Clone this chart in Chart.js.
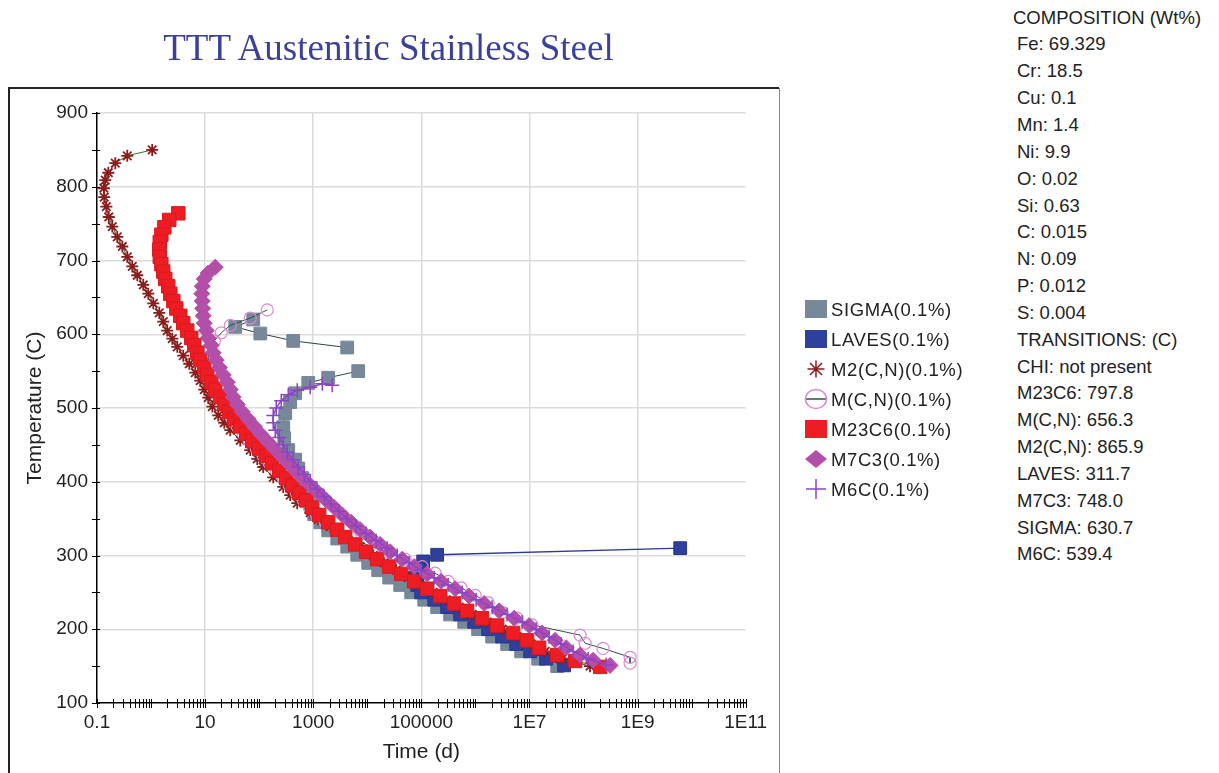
<!DOCTYPE html>
<html>
<head>
<meta charset="utf-8">
<title>TTT Austenitic Stainless Steel</title>
<script src="https://cdn.jsdelivr.net/npm/chart.js@4.4.1/dist/chart.umd.min.js"></script>
<style>
  html, body { margin: 0; padding: 0; background: #fff; }
  body { width: 1219px; height: 773px; position: relative; overflow: hidden;
         font-family: "Liberation Sans", Arial, sans-serif; }
  #title { position: absolute; left: 0; top: 26px; width: 777px; text-align: center;
           font-family: "Liberation Serif", "Times New Roman", serif; font-size: 37px;
           line-height: 44px; color: #3b4199; }
  #chartBox { position: absolute; left: 0; top: 0; width: 1000px; height: 773px; }
  #composition { position: absolute; left: 1013px; top: 4.6px; font-size: 18.5px;
                 line-height: 26.85px; color: #222; white-space: nowrap; }
  #composition div.item { padding-left: 4px; }
</style>
</head>
<body>
<div id="chartBox"><canvas id="chart" width="1000" height="773"></canvas></div>
<div id="title">TTT Austenitic Stainless Steel</div>
<div id="composition"></div>

<script>
// axis ticks
const timeTicks = [0.1, 10, 1000, 1e5, 1e7, 1e9, 1e11];
const timeTickLabels = ["0.1", "10", "1000", "100000", "1E7", "1E9", "1E11"];
const tempTicks = [100, 200, 300, 400, 500, 600, 700, 800, 900];

const seriesNames = ["SIGMA(0.1%)", "LAVES(0.1%)", "M2(C,N)(0.1%)", "M(C,N)(0.1%)",
  "M23C6(0.1%)", "M7C3(0.1%)", "M6C(0.1%)"];

// SIGMA has two separate pieces
const sigmaUpperTemp = [620, 610, 601, 591, 582];
const sigmaUpperTime = [77.7, 36.1, 105, 426, 4250];
const sigmaLowerTemp = [550, 541, 534, 520, 508, 493, 474, 459, 443, 430, 418, 405, 392, 380, 368,
  356, 345, 334, 323, 312, 301, 290, 280, 270, 260, 250, 240, 230, 220, 210, 200, 190, 180, 170, 160, 150];
const sigmaLowerTime = [6790, 1890, 808, 464, 375, 303, 279, 291, 345, 464, 528, 626, 711, 808, 918,
  1040, 1350, 1890, 2780, 4250, 6510, 1.04e4, 1.59e4, 2.54e4, 4.06e4, 6.48e4, 1.13e5, 1.96e5, 3.41e5,
  6.19e5, 1.12e6, 2.04e6, 3.86e6, 7.01e6, 1.45e7, 3.25e7];

const lavesTemp = [310, 301, 292, 281, 270, 260, 250, 240, 230, 220, 210, 200, 190, 180, 170, 160, 151];
const lavesTime = [6.14e9, 1.96e5, 1.08e5, 8.73e4, 7.69e4, 8.37e4, 9.92e4, 1.73e5, 3.0e5, 5.22e5,
  9.48e5, 1.72e6, 3.12e6, 5.67e6, 1.03e7, 2.03e7, 4.37e7];

const m2cnTemp = [850, 842, 832, 819, 809, 798, 786, 773, 759, 746, 732, 719, 705, 692, 680, 667, 655,
  642, 629, 617, 605, 594, 583, 571, 560, 548, 537, 525, 514, 502, 490, 480, 470, 456, 443, 431, 420,
  406, 393, 382, 371, 358, 349, 339, 325, 312, 300, 290, 280, 270, 260, 250, 240, 230, 220, 210, 200,
  190, 180, 170, 160, 150];
const m2cnTime = [1.05, 0.363, 0.218, 0.162, 0.142, 0.134, 0.136, 0.149, 0.165, 0.192, 0.237, 0.294,
  0.363, 0.449, 0.556, 0.718, 0.888, 1.1, 1.42, 1.68, 1.99, 2.47, 3.05, 3.94, 5.09, 6.57, 8.13, 9.64,
  11.4, 13.6, 17.5, 22.6, 29.2, 44.7, 68.4, 92.1, 119, 182, 279, 375, 506, 880, 1240, 2060, 4250, 7390,
  1.29e4, 2.05e4, 3.42e4, 5.71e4, 9.51e4, 1.65e5, 2.88e5, 5e5, 8.71e5, 1.65e6, 3.12e6, 5.91e6, 1.07e7,
  1.95e7, 4.02e7, 1.32e8];

const mcnTemp = [633, 622, 612, 602, 591, 580, 568, 556, 545, 535, 525, 515, 505, 495, 485, 475, 465,
  455, 445, 435, 425, 415, 405, 395, 385, 375, 365, 355, 345, 335, 325, 315, 305, 295, 285, 276, 265,
  256, 246, 236, 223, 215, 206, 192, 181, 174, 162, 154];
const mcnTime = [141, 68.4, 29.2, 19.9, 14.8, 12.4, 11.4, 11.4, 11.9, 13.6, 15.4, 18.3, 21.6, 26.8,
  31.8, 39.3, 50.7, 65.5, 88.3, 119, 154, 207, 279, 360, 485, 653, 843, 1140, 1670, 2660, 4830, 9540,
  2.14e4, 5.02e4, 1.04e5, 1.8e5, 3.13e5, 5.45e5, 9.89e5, 1.72e6, 3.12e6, 5.91e6, 1.12e7, 8.65e7,
  1.07e8, 2.3e8, 7.27e8, 7.27e8];

const m23c6Temp = [764, 755, 745, 735, 725, 715, 705, 695, 685, 675, 665, 655, 645, 635, 625, 615, 605,
  595, 585, 575, 565, 555, 545, 535, 525, 515, 505, 495, 485, 475, 465, 455, 445, 435, 425, 415, 405,
  395, 385, 375, 365, 355, 345, 335, 325, 315, 305, 295, 285, 275, 265, 255, 245, 235, 225, 215, 205,
  195, 185, 175, 165, 157, 149];
const m23c6Time = [3.19, 2.17, 1.76, 1.55, 1.45, 1.42, 1.45, 1.55, 1.68, 1.83, 2.08, 2.27, 2.58, 2.93,
  3.47, 3.94, 4.67, 5.54, 6.3, 7.15, 8.13, 9.64, 10.9, 13, 15.4, 19.1, 22.6, 27.9, 34.6, 44.7, 57.6,
  74.4, 100, 135, 174, 235, 316, 409, 551, 742, 957, 1290, 1890, 2780, 3900, 5970, 9540, 1.52e4,
  2.54e4, 4.24e4, 7.37e4, 1.28e5, 2.23e5, 4.04e5, 7.03e5, 1.33e6, 2.52e6, 4.99e6, 9.05e6, 1.51e7,
  3.25e7, 6.99e7, 2.03e8];

const m7c3Temp = [691, 683, 675, 665, 655, 645, 635, 625, 615, 605, 595, 585, 575, 565, 555, 545, 535,
  525, 515, 505, 495, 485, 475, 465, 455, 445, 435, 425, 415, 405, 395, 385, 375, 365, 355, 345, 335,
  325, 315, 305, 295, 285, 275, 265, 255, 245, 235, 225, 215, 205, 195, 185, 175, 165, 158, 151];
const m7c3Time = [15.4, 11.4, 9.64, 8.85, 8.67, 8.85, 9.04, 9.24, 9.64, 10.5, 11.4, 13.0, 14.1, 16.1,
  18.3, 21.6, 25.7, 29.2, 33.1, 39.3, 48.6, 62.8, 81, 105, 141, 190, 256, 345, 464, 626, 880, 1240,
  1740, 2440, 3440, 5040, 7390, 1.13e4, 1.73e4, 2.65e4, 4.42e4, 7.37e4, 1.28e5, 2.32e5, 4.22e5,
  7.66e5, 1.45e6, 2.75e6, 5.2e6, 9.86e6, 1.71e7, 2.98e7, 4.76e7, 8.65e7, 1.5e8, 3.1e8];

const m6cTemp = [531, 533, 528, 524, 518, 510, 500, 490, 480, 470, 460, 450, 440, 430, 420, 410, 400,
  390, 380, 370, 360, 350, 340, 330, 320, 310, 300, 290, 280, 270, 260, 250, 240, 230, 220, 210, 200,
  190, 180, 170, 160, 152];
const m6cTime = [2240, 1470, 880, 506, 345, 256, 207, 182, 182, 198, 235, 279, 330, 426, 528, 681, 880,
  1180, 1600, 2150, 3020, 4250, 6230, 9540, 1.46e4, 2.33e4, 3.57e4, 5.95e4, 9.92e4, 1.73e5, 3.13e5,
  5.69e5, 1.03e6, 2.04e6, 3.86e6, 7.32e6, 1.33e7, 2.31e7, 3.85e7, 6.42e7, 1.22e8, 2.62e8];

const compositionLines = ["Fe: 69.329", "Cr: 18.5", "Cu: 0.1", "Mn: 1.4", "Ni: 9.9", "O: 0.02",
  "Si: 0.63", "C: 0.015", "N: 0.09", "P: 0.012", "S: 0.004", "TRANSITIONS: (C)", "CHI: not present",
  "M23C6: 797.8", "M(C,N): 656.3", "M2(C,N): 865.9", "LAVES: 311.7", "M7C3: 748.0", "SIGMA: 630.7",
  "M6C: 539.4"];

// side text block
const comp = document.getElementById("composition");
comp.innerHTML = "<div>COMPOSITION (Wt%)</div>" +
  compositionLines.map((s) => `<div class="item">${s}</div>`).join("");

function toPoints(times, temps) {
  return times.map((t, i) => ({ x: t, y: temps[i] }));
}

// gap between the two SIGMA pieces
const sigmaPoints = toPoints(sigmaUpperTime, sigmaUpperTemp)
  .concat([{ x: sigmaUpperTime[sigmaUpperTime.length - 1], y: null }])
  .concat(toPoints(sigmaLowerTime, sigmaLowerTemp));

function isLabeledTime(v) {
  const k = Math.round(Math.log10(v));
  if (Math.abs(Math.log10(v) - k) > 1e-6) return -1;
  return timeTicks.findIndex((t) => Math.round(Math.log10(t)) === k);
}

// every 1..9 x 10^k tick between 0.1 and 1E11
const minorTimeTicks = [];
for (let k = -1; k <= 10; k++) {
  for (let m = 1; m <= 9; m++) minorTimeTicks.push(m * Math.pow(10, k));
}
minorTimeTicks.push(1e11);

const framePlugin = {
  id: "frame",
  beforeDraw(chart) {
    const ctx = chart.ctx;
    ctx.save();
    ctx.strokeStyle = "#222";
    ctx.lineWidth = 2;
    ctx.beginPath();
    ctx.moveTo(9, 800);
    ctx.lineTo(9, 88);
    ctx.lineTo(779, 88);
    ctx.stroke();
    ctx.strokeStyle = "#888";
    ctx.lineWidth = 1;
    ctx.beginPath();
    ctx.moveTo(779.5, 88);
    ctx.lineTo(779.5, 800);
    ctx.stroke();
    ctx.restore();
  }
};

const tickMarks = {
  id: "tickMarks",
  afterDraw(chart) {
    const { ctx, chartArea, scales } = chart;
    ctx.save();
    ctx.strokeStyle = "#000";
    ctx.lineWidth = 1;
    ctx.beginPath();
    scales.x.ticks.forEach((t) => {
      const px = Math.round(scales.x.getPixelForValue(t.value)) + 0.5;
      ctx.moveTo(px, chartArea.bottom - 4);
      ctx.lineTo(px, chartArea.bottom + 5);
    });
    scales.y.ticks.forEach((t) => {
      const py = Math.round(scales.y.getPixelForValue(t.value)) + 0.5;
      ctx.moveTo(chartArea.left - 5, py);
      ctx.lineTo(chartArea.left + 3, py);
    });
    ctx.stroke();
    ctx.restore();
  }
};

// legend drawn outside the plot frame
const sideLegend = {
  id: "sideLegend",
  afterDraw(chart) {
    const ctx = chart.ctx;
    const x0 = 805;
    ctx.save();
    ctx.font = '18.5px "Liberation Sans", Arial, sans-serif';
    ctx.letterSpacing = "0.6px";
    ctx.textBaseline = "middle";
    chart.data.datasets.forEach((ds, i) => {
      const ty = 311 + i * 30;
      const cy = ty - 2;
      const cx = x0 + 11;
      ctx.lineWidth = 1.5;
      if (ds.pointStyle === "rect") {
        ctx.fillStyle = ds.pointBackgroundColor;
        ctx.fillRect(x0, cy - 9, 22, 18);
      } else if (ds.pointStyle === "star") {
        ctx.strokeStyle = ds.pointBorderColor;
        ctx.beginPath();
        const r = 8.5, d = r * Math.SQRT1_2;
        ctx.moveTo(cx - r, cy); ctx.lineTo(cx + r, cy);
        ctx.moveTo(cx, cy - r); ctx.lineTo(cx, cy + r);
        ctx.moveTo(cx - d, cy - d); ctx.lineTo(cx + d, cy + d);
        ctx.moveTo(cx - d, cy + d); ctx.lineTo(cx + d, cy - d);
        ctx.stroke();
      } else if (ds.pointStyle === "circle") {
        ctx.strokeStyle = ds.borderColor;
        ctx.beginPath();
        ctx.moveTo(x0, cy); ctx.lineTo(x0 + 22, cy);
        ctx.stroke();
        ctx.strokeStyle = ds.pointBorderColor;
        ctx.beginPath();
        ctx.ellipse(cx, cy, 10.5, 9.5, 0, 0, Math.PI * 2);
        ctx.stroke();
      } else if (ds.pointStyle === "rectRot") {
        ctx.fillStyle = ds.pointBackgroundColor;
        ctx.beginPath();
        ctx.moveTo(x0, cy); ctx.lineTo(cx, cy - 9);
        ctx.lineTo(x0 + 22, cy); ctx.lineTo(cx, cy + 9);
        ctx.closePath();
        ctx.fill();
      } else if (ds.pointStyle === "cross") {
        ctx.strokeStyle = ds.pointBorderColor;
        ctx.beginPath();
        ctx.moveTo(x0 + 1, cy); ctx.lineTo(x0 + 21, cy);
        ctx.moveTo(cx, cy - 10); ctx.lineTo(cx, cy + 10);
        ctx.stroke();
      }
      ctx.fillStyle = "#222";
      ctx.fillText(ds.label, 831, ty);
    });
    ctx.restore();
  }
};

const ctx = document.getElementById("chart").getContext("2d");
new Chart(ctx, {
  type: "scatter",
  data: {
    datasets: [
      {
        label: seriesNames[0],
        data: sigmaPoints,
        showLine: true,
        borderColor: "#33403f",
        borderWidth: 1,
        pointStyle: "rect",
        pointRadius: 9,
        pointBackgroundColor: "#778899",
        pointBorderColor: "#74859a",
        pointBorderWidth: 1,
        order: 7
      },
      {
        label: seriesNames[1],
        data: toPoints(lavesTime, lavesTemp),
        showLine: true,
        borderColor: "#2e3a96",
        borderWidth: 1.5,
        pointStyle: "rect",
        pointRadius: 9,
        pointBackgroundColor: "#2e409c",
        pointBorderColor: "#27368a",
        pointBorderWidth: 1,
        order: 6
      },
      {
        label: seriesNames[2],
        data: toPoints(m2cnTime, m2cnTemp),
        showLine: true,
        borderColor: "#2d6b2d",
        borderWidth: 1,
        pointStyle: "star",
        pointRadius: 6,
        pointBackgroundColor: "#8b1c1c",
        pointBorderColor: "#8b1c1c",
        pointBorderWidth: 1.8,
        order: 5
      },
      {
        label: seriesNames[3],
        data: toPoints(mcnTime, mcnTemp),
        showLine: true,
        borderColor: "#2f4f46",
        borderWidth: 1,
        pointStyle: "circle",
        pointRadius: 6,
        pointBackgroundColor: "rgba(0,0,0,0)",
        pointBorderColor: "#d98bd0",
        pointBorderWidth: 1.2,
        order: 4
      },
      {
        label: seriesNames[4],
        data: toPoints(m23c6Time, m23c6Temp),
        showLine: true,
        borderColor: "#ee1d23",
        borderWidth: 1,
        pointStyle: "rect",
        pointRadius: 9.5,
        pointBackgroundColor: "#ee1d23",
        pointBorderColor: "#d81a20",
        pointBorderWidth: 1,
        order: 3
      },
      {
        label: seriesNames[5],
        data: toPoints(m7c3Time, m7c3Temp),
        showLine: true,
        borderColor: "#b34fa8",
        borderWidth: 1,
        pointStyle: "rectRot",
        pointRadius: 8,
        pointBackgroundColor: "#b34fa8",
        pointBorderColor: "#b34fa8",
        pointBorderWidth: 1,
        order: 2
      },
      {
        label: seriesNames[6],
        data: toPoints(m6cTime, m6cTemp),
        showLine: true,
        borderColor: "#8a44c4",
        borderWidth: 1.5,
        pointStyle: "cross",
        pointRadius: 7,
        pointBackgroundColor: "#8a44c4",
        pointBorderColor: "#8a44c4",
        pointBorderWidth: 1.5,
        order: 1
      }
    ]
  },
  options: {
    responsive: false,
    animation: false,
    devicePixelRatio: 1,
    events: [],
    layout: { padding: { top: 113, left: 0, right: 254.3, bottom: 0 } },
    plugins: {
      legend: { display: false },
      tooltip: { enabled: false },
      title: { display: false }
    },
    scales: {
      x: {
        type: "logarithmic",
        min: 0.1,
        max: 1e11,
        afterBuildTicks: (scale) => {
          scale.ticks = minorTimeTicks.map((v) => ({ value: v }));
        },
        afterFit: (scale) => { scale.height = 70; },
        ticks: {
          autoSkip: false,
          maxRotation: 0,
          minRotation: 0,
          padding: 8.5,
          color: "#222",
          font: { size: 19 },
          callback: (value) => {
            const i = isLabeledTime(value);
            return i >= 0 ? timeTickLabels[i] : "";
          }
        },
        grid: {
          drawTicks: false,
          lineWidth: 1.5,
          color: (c) => {
            const v = c.tick ? c.tick.value : 0;
            const i = isLabeledTime(v);
            return i > 0 && i < timeTicks.length - 1 ? "#dcdcdc" : "rgba(0,0,0,0)";
          }
        },
        border: { color: "#000", width: 1.5 },
        title: {
          display: true,
          text: "Time (d)",
          color: "#222",
          font: { size: 21 },
          padding: { top: 0, bottom: 8.4 }
        }
      },
      y: {
        type: "linear",
        min: 100,
        max: 900,
        afterFit: (scale) => { scale.width = 97; },
        ticks: {
          stepSize: 50,
          autoSkip: false,
          padding: 9,
          color: "#222",
          font: { size: 19 },
          callback: (value) => (tempTicks.includes(value) ? String(value) : "")
        },
        grid: {
          drawTicks: false,
          lineWidth: 1.5,
          color: (c) => {
            const v = c.tick ? c.tick.value : 0;
            return tempTicks.includes(v) && v > 100 ? "#dcdcdc" : "rgba(0,0,0,0)";
          }
        },
        border: { color: "#000", width: 1.5 },
        title: {
          display: true,
          text: "Temperature (C)",
          color: "#222",
          font: { size: 21 },
          padding: { top: 22.4, bottom: 0 }
        }
      }
    }
  },
  plugins: [framePlugin, tickMarks, sideLegend]
});
</script>
</body>
</html>
